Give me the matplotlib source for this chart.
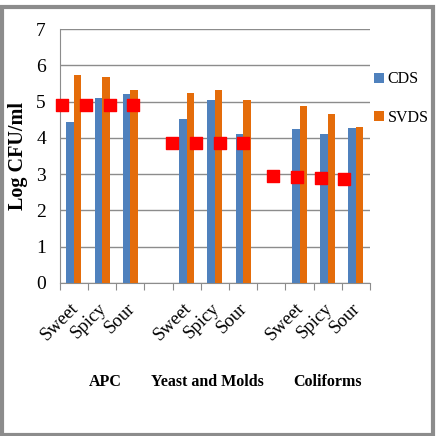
import numpy as np
import matplotlib
matplotlib.use("Agg")
import matplotlib.pyplot as plt
from matplotlib.patches import Rectangle

# categories (empty slots separate the three groups)
tick_labels = ["Sweet", "Spicy", "Sour", "", "Sweet", "Spicy", "Sour", "", "Sweet", "Spicy", "Sour"]
groups = ["APC", "Yeast and Molds", "Coliforms"]
cds = [4.43, 5.10, 5.21, np.nan, 4.51, 5.04, 4.11, np.nan, 4.25, 4.10, 4.27]
svds = [5.75, 5.67, 5.32, np.nan, 5.25, 5.32, 5.04, np.nan, 4.88, 4.67, 4.29]
# red square markers (category-axis position, value)
marker_x = [-0.43, 0.42, 1.27, 2.09, 3.47, 4.32, 5.17, 5.99, 7.05, 7.90, 8.75, 9.57]
marker_y = [4.90, 4.90, 4.90, 4.90, 3.85, 3.85, 3.85, 3.85, 2.95, 2.93, 2.90, 2.87]

plt.rcParams['font.family'] = ['Liberation Serif', 'DejaVu Serif']

fig = plt.figure(figsize=(4.4, 4.36), dpi=100)
ax = fig.add_axes([0.136, 0.351, 0.705, 0.582])

x = np.arange(len(tick_labels))
w = 0.265
ax.bar(x - w / 2, cds, w, color="#4F81BD", label="CDS", zorder=3)
ax.bar(x + w / 2, svds, w, color="#E46C0A", label="SVDS", zorder=3)
ax.scatter(marker_x, marker_y, marker="s", s=80, color="#FF0000", zorder=4, clip_on=False)

ax.set_xlim(-0.5, len(tick_labels) - 0.5)
ax.set_ylim(0, 7)
ax.set_yticks(range(8))
ax.yaxis.grid(True, color="#8C8C8C", linewidth=1, zorder=0)
ax.set_axisbelow(True)
ax.tick_params(axis="y", length=0, labelsize=14, pad=10)

ax.set_xticks(np.arange(-0.5, len(tick_labels)), labels=[""] * (len(tick_labels) + 1))
ax.tick_params(axis="x", direction="out", length=5, color="#8C8C8C")
for i, lab in enumerate(tick_labels):
    if lab:
        ax.text(i - 0.15, -0.46, lab, rotation=45, ha="right", va="top",
                rotation_mode="anchor", fontsize=13.5, transform=ax.transData)

for s in ["top", "right"]:
    ax.spines[s].set_visible(False)
ax.spines["left"].set_color("#8C8C8C")
ax.spines["bottom"].set_color("#8C8C8C")

ax.set_ylabel("Log CFU/ml", fontsize=14.5, fontweight="bold", labelpad=6)

for gx, g in zip([105, 207, 327], groups):
    fig.text(gx / 440, 1 - 382 / 436, g, ha="center", va="center",
             fontsize=11.5, fontweight="bold")

ax.legend(loc="upper left", bbox_to_anchor=(0.832, 0.855), bbox_transform=fig.transFigure,
          frameon=False, fontsize=11.5, handlelength=0.6, handleheight=0.6,
          handletextpad=0.25, labelspacing=1.4, borderpad=0)

fig.patches.append(Rectangle((0.004, 0.003), 0.98, 0.982, transform=fig.transFigure,
                             fill=False, edgecolor="#8C8C8C", linewidth=3))

fig.savefig("out.png", dpi=100)
